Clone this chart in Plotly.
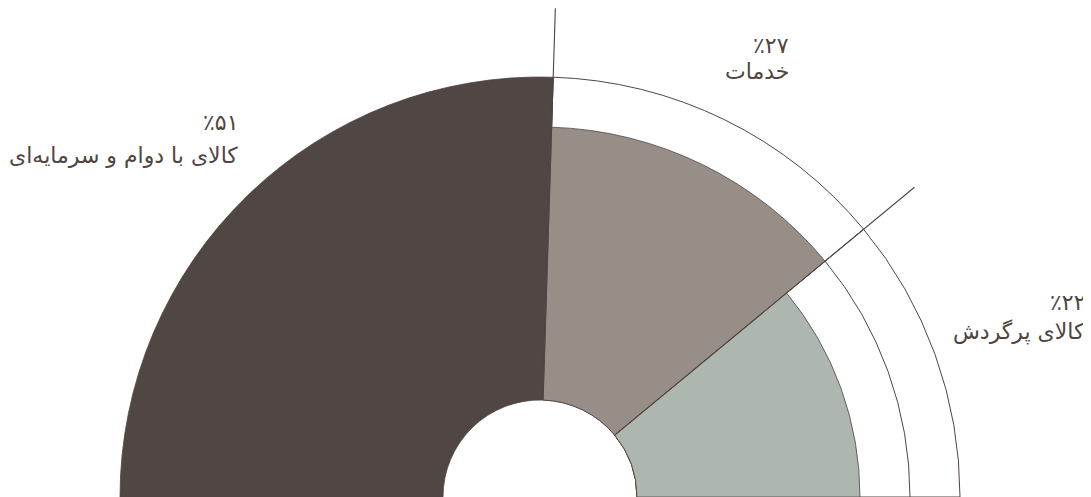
import numpy as np
import plotly.graph_objects as go

# ---- data ----
categories = ["کالای با دوام و سرمایه\u200cای", "خدمات", "کالای پرگردش"]
shares = [51, 27, 22]
share_labels = ["٪۵۱", "٪۲۷", "٪۲۲"]
fill_colors = ["#504644", "#968e87", "#adb7b0"]

LINE = "#4f4542"
TEXT = "#4f4542"
HOLE = 97
R_OUT = 420
STEP = 50

shares_arr = np.array(shares, dtype=float)
widths = shares_arr * 1.8
ends = 180 - np.cumsum(widths)
starts = ends + widths
centers = (starts + ends) / 2

fig = go.Figure()

# outline rings (white, outlined)
for k in range(len(categories)):
    for j in range(k):
        fig.add_trace(go.Barpolar(
            r=[R_OUT - STEP * j - HOLE], base=[HOLE], theta=[centers[k]], width=[widths[k]],
            marker=dict(color="white", line=dict(color=LINE, width=1)),
            hoverinfo="skip", showlegend=False))

# filled sectors
for k in range(len(categories)):
    fig.add_trace(go.Barpolar(
        r=[R_OUT - STEP * k - HOLE], base=[HOLE], theta=[centers[k]], width=[widths[k]],
        marker=dict(color=fill_colors[k], line=dict(color=LINE, width=0.8)),
        name=categories[k], hoverinfo="name", showlegend=False))

# leader lines along the boundaries
lead = [490, 486]
for b, L in zip(ends[:2], lead):
    fig.add_trace(go.Scatterpolar(
        r=[HOLE, L], theta=[b, b], mode="lines",
        line=dict(color=LINE, width=1.1), hoverinfo="skip", showlegend=False))

W, H = 1091, 497
OFF = 8  # page body margin
CX, CY = 540 - OFF, 497 - OFF  # centre in plot coords
RMAX = CY
fig.update_layout(
    width=W, height=H,
    margin=dict(l=0, r=0, t=0, b=0),
    paper_bgcolor="white",
    polar=dict(
        domain=dict(x=[(CX - RMAX) / W, (CX + RMAX) / W], y=[(H - CY) / H, 1]),
        sector=[0, 180],
        bgcolor="white",
        barmode="overlay",
        radialaxis=dict(visible=False, range=[0, RMAX], showgrid=False),
        angularaxis=dict(visible=False, showgrid=False, rotation=0, direction="counterclockwise"),
    ),
)

# labels: (right edge px, pct y px, label y px) in page coords
label_pos = [(240, 123, 156), (791, 45, 72), (1087, 302, 332)]
font = dict(family="DejaVu Sans, Noto Sans", size=22, color=TEXT)
for k, (xr, yp, yl) in enumerate(label_pos):
    fig.add_annotation(x=(xr - OFF) / W, y=1 - (yp - OFF) / H, xref="paper", yref="paper",
                       text=share_labels[k], showarrow=False, xanchor="right",
                       yanchor="middle", font=font)
    fig.add_annotation(x=(xr - OFF) / W, y=1 - (yl - OFF) / H, xref="paper", yref="paper",
                       text=categories[k], showarrow=False, xanchor="right",
                       yanchor="middle", font=font)

fig.write_html("out.html")
